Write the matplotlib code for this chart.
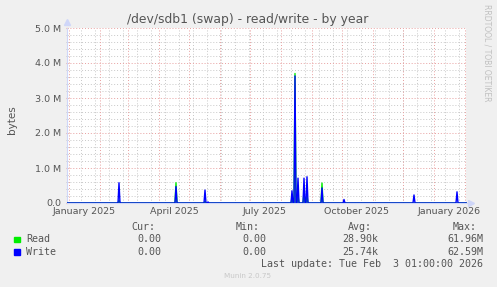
import numpy as np
import pandas as pd
import matplotlib
matplotlib.use("Agg")
import matplotlib.pyplot as plt
import matplotlib.dates as mdates
from matplotlib.ticker import FuncFormatter, MultipleLocator

# spikes (bytes per second, daily averages)
spike_days = ["2025-02-20", "2025-04-18", "2025-05-17", "2025-05-20",
              "2025-08-12", "2025-08-15", "2025-08-18", "2025-08-24",
              "2025-08-27", "2025-09-11", "2025-10-03", "2025-12-12",
              "2026-01-24"]
read_m = [0.08, 0.58, 0.05, 0.0, 0.15, 3.70, 0.20, 0.30, 0.20, 0.57, 0.0, 0.0, 0.0]
write_m = [0.58, 0.47, 0.37, 0.03, 0.35, 3.63, 0.71, 0.71, 0.75, 0.43, 0.10, 0.23, 0.32]

start = pd.Timestamp("2024-12-30 01:00")
end = pd.Timestamp("2026-02-03 01:00")

legend_rows = [("Read", "#00ee00", "0.00", "0.00", "28.90k", "61.96M"),
               ("Write", "#0000ff", "0.00", "0.00", "25.74k", "62.59M")]

days = pd.date_range(start, end, freq="D")
read = pd.Series(0.0, index=days)
write = pd.Series(0.0, index=days)
for d, r, w in zip(spike_days, read_m, write_m):
    t = pd.Timestamp(d + " 01:00")
    read[t] = r * 1e6
    write[t] = w * 1e6

W, H = 497, 287
fig = plt.figure(figsize=(W / 100, H / 100), dpi=100)
fig.patch.set_facecolor("#f0f0f0")
ax = fig.add_axes([67 / W, 1 - 203 / H, 400 / W, 175 / H])
ax.set_facecolor("white")

txt = "#555555"
ax.set_xlim(start, end)
ax.set_ylim(0, 5e6)

# grid
minor_x = pd.date_range("2025-01-13", end, freq="14D")
for t in minor_x:
    ax.axvline(t, color="#c8c8c8", lw=0.7, ls=(0, (1, 2)), zorder=1)
for t in pd.date_range("2025-01-01", end, freq="MS"):
    ax.axvline(t, color="#e8a0a0", lw=0.7, ls=(0, (1, 2)), zorder=1.1)
for v in np.arange(0.2e6, 5e6, 0.2e6):
    if abs(v / 1e6 - round(v / 1e6)) > 1e-6:
        ax.axhline(v, color="#c8c8c8", lw=0.7, ls=(0, (1, 2)), zorder=1)
for v in np.arange(1e6, 5.01e6, 1e6):
    ax.axhline(v, color="#e8a0a0", lw=0.7, ls=(0, (1, 2)), zorder=1.1)

ax.plot(read.index, read.values, color="#00ee00", lw=1.0, zorder=3)
ax.plot(write.index, write.values, color="#0000ff", lw=1.0, zorder=4)

ax.axvline(end, color="#888888", lw=0.9, zorder=5)

# axes styling
for s in ["top", "right"]:
    ax.spines[s].set_visible(False)
ax.spines["left"].set_color("#cfd6f8")
ax.spines["bottom"].set_color("#cfd6f8")
ax.plot([0], [1.035], marker="^", color="#cfd6f8", ms=4, transform=ax.transAxes, clip_on=False)
ax.plot([1.01], [0], marker=">", color="#cfd6f8", ms=4, transform=ax.transAxes, clip_on=False)

ax.yaxis.set_major_locator(MultipleLocator(1e6))
ax.yaxis.set_minor_locator(MultipleLocator(0.2e6))
ax.yaxis.set_major_formatter(FuncFormatter(lambda v, p: "0.0" if v == 0 else "%.1f M" % (v / 1e6)))
ax.set_xticks(pd.to_datetime(["2025-01-16", "2025-04-16", "2025-07-16", "2025-10-16", "2026-01-16"]))
ax.xaxis.set_major_formatter(mdates.DateFormatter("%B %Y"))
ax.tick_params(axis="both", which="both", colors="#c0c0c0", labelcolor=txt, labelsize=6.8, length=0, pad=3)
ax.tick_params(axis="y", which="major", length=2, direction="inout", colors="#e8a0a0", labelcolor=txt)
ax.tick_params(axis="y", which="minor", length=2, direction="inout", colors="#c0c0c0")

fig.text(12 / W, 1 - 120 / H, "bytes", rotation=90, ha="center", va="center", color=txt, fontsize=7.5)
fig.text(248 / W, 1 - 19 / H, "/dev/sdb1 (swap) - read/write - by year", ha="center", va="center",
         color=txt, fontsize=8.9)
fig.text(487 / W, 1 - 53 / H, "RRDTOOL / TOBI OETIKER", rotation=270, ha="center", va="center",
         color="#c0c0c0", fontsize=5.5)

mono = dict(family="DejaVu Sans Mono", fontsize=7.2, color=txt, va="center")
col_right = [161, 266, 378, 483]
heads = ["Cur:", "Min:", "Avg:", "Max:"]
for x, h in zip(col_right, heads):
    fig.text((x - 6) / W, 1 - 227 / H, h, ha="right", **mono)
for i, (name, col, cur, mn, avg, mx) in enumerate(legend_rows):
    y = 1 - (239.5 + 12.5 * i) / H
    fig.patches.append(plt.Rectangle((14 / W, y - 2.8 / H), 5.5 / W, 5.5 / H, color=col,
                                     transform=fig.transFigure, figure=fig))
    fig.text(26 / W, y, name, ha="left", **mono)
    for x, v in zip(col_right, [cur, mn, avg, mx]):
        fig.text(x / W, y, v, ha="right", **mono)
fig.text(483 / W, 1 - 264 / H, "Last update: Tue Feb  3 01:00:00 2026", ha="right", **mono)
fig.text(248 / W, 1 - 276 / H, "Munin 2.0.75", ha="center", va="center", color="#c8c8c8", fontsize=5.2)

fig.savefig("out.png", dpi=100, facecolor=fig.get_facecolor())
